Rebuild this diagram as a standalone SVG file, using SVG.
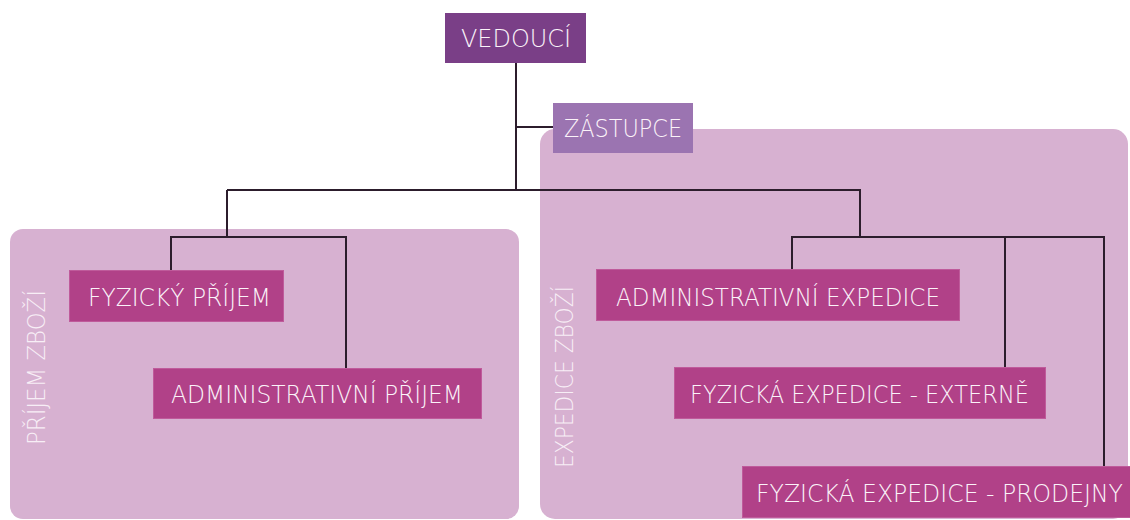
<svg xmlns="http://www.w3.org/2000/svg" width="1130" height="520" viewBox="0 0 1130 520">
  <style>
    .grp { fill: #d7b1d1; }
    .grp-label { font-family: "DejaVu Sans", "Liberation Sans", sans-serif; font-weight: 200; font-size: 24px; fill: #f7eef6; }
    .box { fill: #b14188; stroke: #bf5b9b; stroke-width: 1; }
    .box-top { fill: #7a3f87; }
    .box-sub { fill: #9b74b1; }
    .lbl { font-family: "DejaVu Sans", "Liberation Sans", sans-serif; font-weight: 200; font-size: 24px; fill: #fbf3f9; }
    .wire { fill: none; stroke: #2c1d2c; stroke-width: 2; }
  </style>

  <!-- department areas -->
  <g id="area-prijem">
    <rect class="grp" x="10" y="229" width="509" height="290" rx="13"/>
    <text class="grp-label" transform="translate(45,445) rotate(-90)" textLength="155" lengthAdjust="spacingAndGlyphs">PŘÍJEM ZBOŽÍ</text>
  </g>
  <g id="area-expedice">
    <rect class="grp" x="540" y="129" width="588" height="390" rx="15"/>
    <text class="grp-label" transform="translate(573,468) rotate(-90)" textLength="182" lengthAdjust="spacingAndGlyphs">EXPEDICE ZBOŽÍ</text>
  </g>

  <!-- connectors -->
  <g id="connectors">
    <path class="wire" d="M516 63 V190"/>
    <path class="wire" d="M516 127 H553"/>
    <path class="wire" d="M227 190 H860 V237"/>
    <path class="wire" d="M227 190 V237"/>
    <path class="wire" d="M171 270 V237 H346 V368"/>
    <path class="wire" d="M792 270 V237 H1104 V466"/>
    <path class="wire" d="M1005 237 V367"/>
  </g>

  <!-- nodes -->
  <g id="vedouci">
    <rect class="box-top" x="445" y="13" width="141" height="50"/>
    <text class="lbl" x="461" y="47" textLength="110" lengthAdjust="spacingAndGlyphs">VEDOUCÍ</text>
  </g>
  <g id="zastupce">
    <rect class="box-sub" x="553" y="103" width="140" height="50"/>
    <text class="lbl" x="564" y="137" textLength="118" lengthAdjust="spacingAndGlyphs">ZÁSTUPCE</text>
  </g>
  <g id="fyzicky-prijem">
    <rect class="box" x="69.5" y="270.5" width="214" height="51"/>
    <text class="lbl" x="88" y="306" textLength="183" lengthAdjust="spacingAndGlyphs">FYZICKÝ PŘÍJEM</text>
  </g>
  <g id="administrativni-prijem">
    <rect class="box" x="153.5" y="368.5" width="328" height="50"/>
    <text class="lbl" x="171" y="403" textLength="292" lengthAdjust="spacingAndGlyphs">ADMINISTRATIVNÍ PŘÍJEM</text>
  </g>
  <g id="administrativni-expedice">
    <rect class="box" x="596.5" y="269.5" width="363" height="51"/>
    <text class="lbl" x="616" y="306" textLength="324" lengthAdjust="spacingAndGlyphs">ADMINISTRATIVNÍ EXPEDICE</text>
  </g>
  <g id="fyzicka-expedice-externe">
    <rect class="box" x="674.5" y="367.5" width="371" height="51"/>
    <text class="lbl" x="690" y="403" textLength="339" lengthAdjust="spacingAndGlyphs">FYZICKÁ EXPEDICE - EXTERNĚ</text>
  </g>
  <g id="fyzicka-expedice-prodejny">
    <rect class="box" x="742.5" y="466.5" width="390" height="51"/>
    <text class="lbl" x="756" y="502" textLength="367" lengthAdjust="spacingAndGlyphs">FYZICKÁ EXPEDICE - PRODEJNY</text>
  </g>
</svg>
